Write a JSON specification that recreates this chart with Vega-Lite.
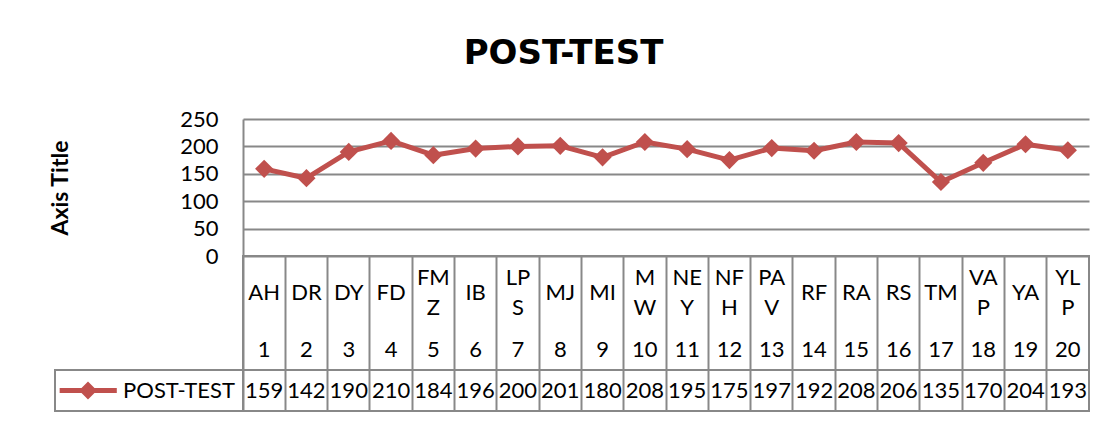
{
  "$schema": "https://vega.github.io/schema/vega-lite/v6.json",
  "background": "white",
  "padding": {"left": 49, "top": 37, "right": 21, "bottom": 10},
  "title": {"text": "POST-TEST", "fontSize": 34, "font": "DejaVu Sans", "fontWeight": "bold", "color": "#000000", "anchor": "middle", "offset": 37, "dx": -6},
  "datasets": {
    "scores": [
      {"n": 1, "name": "AH", "score": 159},
      {"n": 2, "name": "DR", "score": 142},
      {"n": 3, "name": "DY", "score": 190},
      {"n": 4, "name": "FD", "score": 210},
      {"n": 5, "name": "FMZ", "score": 184},
      {"n": 6, "name": "IB", "score": 196},
      {"n": 7, "name": "LPS", "score": 200},
      {"n": 8, "name": "MJ", "score": 201},
      {"n": 9, "name": "MI", "score": 180},
      {"n": 10, "name": "MW", "score": 208},
      {"n": 11, "name": "NEY", "score": 195},
      {"n": 12, "name": "NFH", "score": 175},
      {"n": 13, "name": "PAV", "score": 197},
      {"n": 14, "name": "RF", "score": 192},
      {"n": 15, "name": "RA", "score": 208},
      {"n": 16, "name": "RS", "score": 206},
      {"n": 17, "name": "TM", "score": 135},
      {"n": 18, "name": "VAP", "score": 170},
      {"n": 19, "name": "YA", "score": 204},
      {"n": 20, "name": "YLP", "score": 193}
    ],
    "legend": [{"series": "POST-TEST"}]
  },
  "columns": 2,
  "spacing": 0,
  "bounds": "flush",
  "concat": [
    {
      "width": 188, "height": 137,
      "data": {"values": [{}]},
      "mark": {"type": "point", "opacity": 0},
      "encoding": {}
    },
    {
      "width": 846, "height": 137,
      "data": {"name": "scores"},
      "encoding": {
        "x": {"field": "n", "type": "ordinal", "scale": {"type": "point", "padding": 0.5}, "axis": null},
        "y": {
          "field": "score", "type": "quantitative",
          "scale": {"domain": [0, 250], "nice": false, "zero": true},
          "axis": {
            "values": [0, 50, 100, 150, 200, 250],
            "grid": true, "gridColor": "#888888", "gridWidth": 2,
            "domain": true, "domainColor": "#888888", "domainWidth": 2,
            "ticks": false, "tickSize": 0,
            "labelPadding": 25, "labelFontSize": 22, "labelColor": "#000000", "labelFont": "Lato",
            "title": "Axis Title", "titleFontSize": 23, "titleFont": "Lato", "titleFontWeight": "bold", "titleColor": "#000000",
            "titlePadding": 106, "minExtent": 65, "maxExtent": 65
          }
        }
      },
      "layer": [
        {"mark": {"type": "line", "color": "#C0504D", "strokeWidth": 5, "strokeJoin": "round"}},
        {"mark": {"type": "point", "shape": "diamond", "filled": true, "color": "#C0504D", "size": 330, "opacity": 1}}
      ]
    },
    {
      "width": 188, "height": 114,
      "data": {"values": [{}]},
      "mark": {"type": "point", "opacity": 0},
      "encoding": {}
    },
    {
      "width": 846, "height": 114,
      "data": {"name": "scores"},
      "view": {"stroke": "#888888", "strokeWidth": 2},
      "transform": [
        {"calculate": "datum.name == 'MW' ? 'M\\nW' : (length(datum.name) > 2 ? substring(datum.name, 0, 2) + '\\n' + substring(datum.name, 2) : datum.name)", "as": "label"}
      ],
      "encoding": {
        "x": {
          "field": "n", "type": "ordinal",
          "scale": {"type": "band", "paddingInner": 0, "paddingOuter": 0},
          "axis": {"labels": false, "ticks": false, "domain": false, "grid": true, "gridColor": "#888888", "gridWidth": 2, "bandPosition": 0, "title": null}
        }
      },
      "layer": [
        {
          "transform": [{"filter": "indexof(datum.label, '\\n') < 0"}],
          "mark": {"type": "text", "fontSize": 22, "dy": -20, "color": "#000000", "baseline": "middle"},
          "encoding": {"text": {"field": "label", "type": "nominal"}}
        },
        {
          "transform": [{"filter": "indexof(datum.label, '\\n') >= 0"}],
          "mark": {"type": "text", "fontSize": 22, "lineBreak": "\n", "lineHeight": 30, "dy": -35, "color": "#000000", "baseline": "middle"},
          "encoding": {"text": {"field": "label", "type": "nominal"}}
        },
        {"mark": {"type": "text", "fontSize": 22, "dy": 37, "color": "#000000", "baseline": "middle"}, "encoding": {"text": {"field": "n", "type": "nominal"}}}
      ]
    },
    {
      "width": 188, "height": 41,
      "data": {"name": "legend"},
      "view": {"stroke": "#888888", "strokeWidth": 2},
      "layer": [
        {"mark": {"type": "point", "shape": "M-3.15,-0.28L-0.72,-0.28L0,-1L0.72,-0.28L3.2,-0.28L3.2,0.28L0.72,0.28L0,1L-0.72,0.28L-3.15,0.28Z", "filled": true, "color": "#C0504D", "size": 324, "opacity": 1, "xOffset": -61}, "encoding": {}},
        {"mark": {"type": "text", "fontSize": 22, "color": "#000000", "dx": 30, "baseline": "middle"}, "encoding": {"text": {"field": "series", "type": "nominal"}}}
      ]
    },
    {
      "width": 846, "height": 41,
      "data": {"name": "scores"},
      "view": {"stroke": "#888888", "strokeWidth": 2},
      "mark": {"type": "text", "fontSize": 22, "color": "#000000", "baseline": "middle"},
      "encoding": {
        "x": {
          "field": "n", "type": "ordinal",
          "scale": {"type": "band", "paddingInner": 0, "paddingOuter": 0},
          "axis": {"labels": false, "ticks": false, "domain": false, "grid": true, "gridColor": "#888888", "gridWidth": 2, "bandPosition": 0, "title": null}
        },
        "text": {"field": "score", "type": "quantitative"}
      }
    }
  ],
  "config": {
    "font": "Lato",
    "view": {"stroke": null},
    "text": {"font": "Lato"}
  }
}
